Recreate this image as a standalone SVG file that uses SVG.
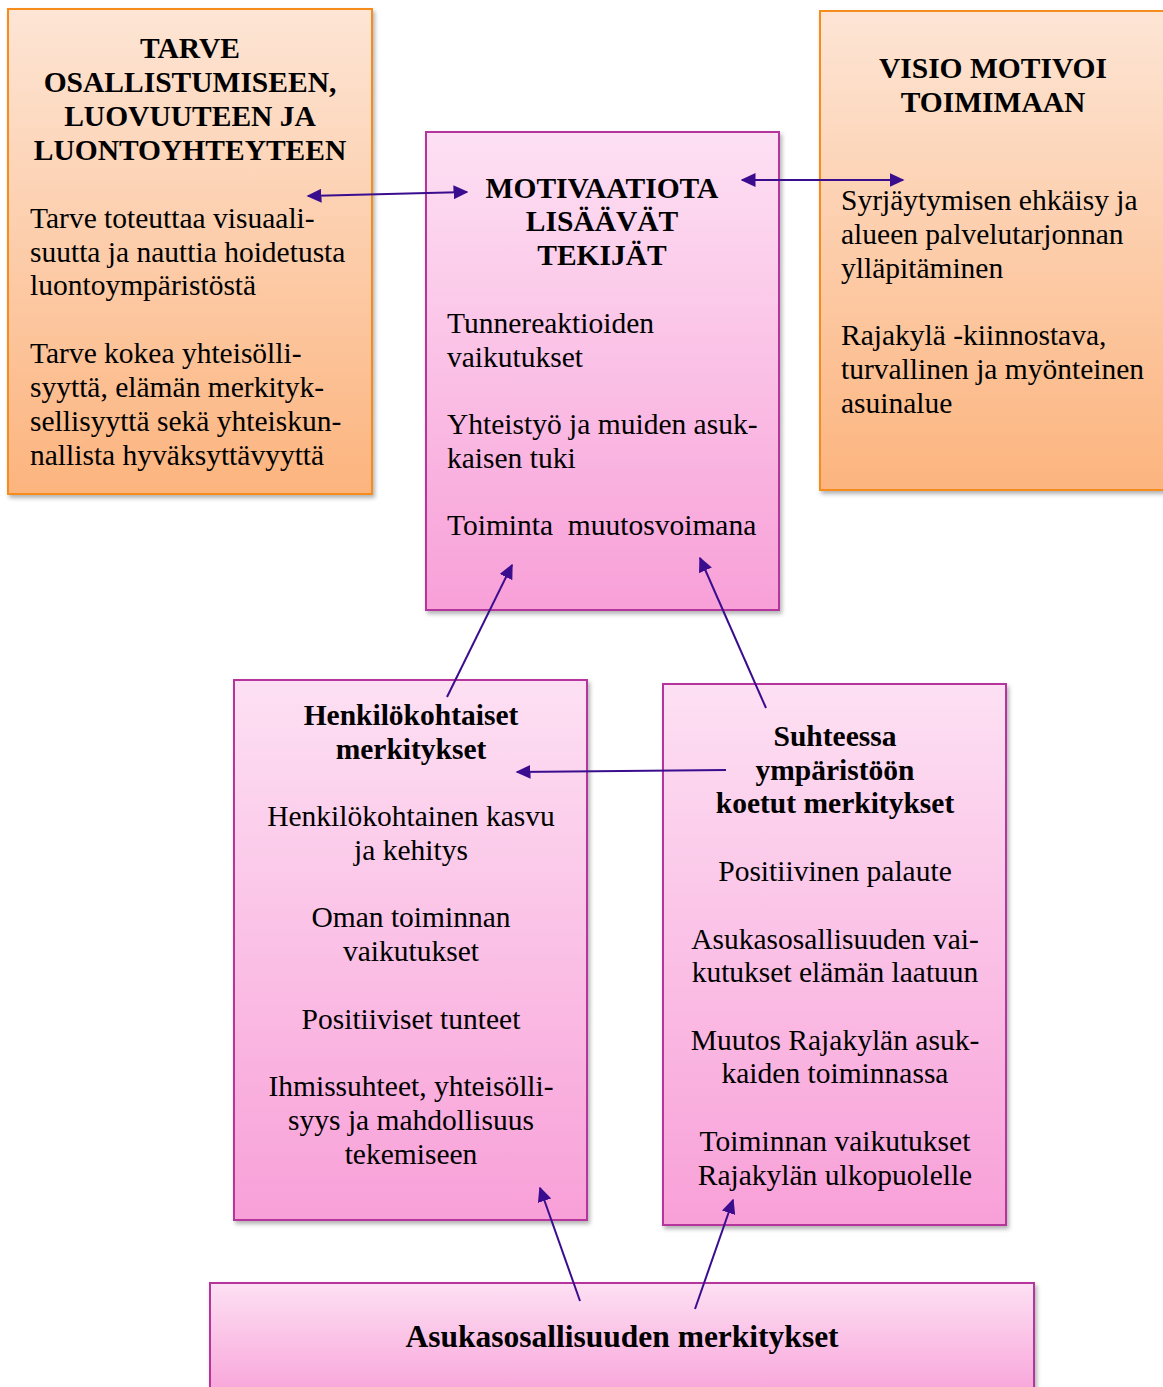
<svg xmlns="http://www.w3.org/2000/svg" width="1163" height="1387" viewBox="0 0 1163 1387">
<style>
.t{font-family:"Liberation Serif","Times New Roman",serif;font-size:29.5px;fill:#000}
.b{font-family:"Liberation Serif","Times New Roman",serif;font-size:29.5px;font-weight:bold;fill:#000}
.bb{font-size:31.5px}
.c{text-anchor:middle}
.or{fill:url(#gO);stroke:#f68c1f;stroke-width:2}
.pk{fill:url(#gP);stroke:#b5369c;stroke-width:2}
.ar{stroke:#3a0d8f;stroke-width:2;fill:none}
</style>
<defs>
<linearGradient id="gO" x1="0" y1="0" x2="0" y2="1"><stop offset="0" stop-color="#fde5d5"/><stop offset="1" stop-color="#fcb47e"/></linearGradient>
<linearGradient id="gP" x1="0" y1="0" x2="0" y2="1"><stop offset="0" stop-color="#fde0f3"/><stop offset="1" stop-color="#f8a0d8"/></linearGradient>
<filter id="sh" x="-10%" y="-10%" width="120%" height="120%"><feDropShadow dx="2" dy="3" stdDeviation="2" flood-color="#000" flood-opacity="0.3"/></filter>
<marker id="ah" viewBox="0 0 10 10" refX="9" refY="5" markerWidth="15" markerHeight="14" markerUnits="userSpaceOnUse" orient="auto-start-reverse" preserveAspectRatio="none"><path d="M0,0 L10,5 L0,10 z" fill="#3a0d8f"/></marker>
</defs>
<g id="tarve">
<rect class="or" x="8" y="9" width="364" height="485" filter="url(#sh)"/>
<text class="b c" x="190" y="58">TARVE</text>
<text class="b c" x="190" y="92">OSALLISTUMISEEN,</text>
<text class="b c" x="190" y="126">LUOVUUTEEN JA</text>
<text class="b c" x="190" y="160">LUONTOYHTEYTEEN</text>
<text class="t" x="30" y="228">Tarve toteuttaa visuaali-</text>
<text class="t" x="30" y="262">suutta ja nauttia hoidetusta</text>
<text class="t" x="30" y="295">luontoympäristöstä</text>
<text class="t" x="30" y="363">Tarve kokea yhteisölli-</text>
<text class="t" x="30" y="397">syyttä, elämän merkityk-</text>
<text class="t" x="30" y="431">sellisyyttä sekä yhteiskun-</text>
<text class="t" x="30" y="465">nallista hyväksyttävyyttä</text>
</g>
<g id="motivaatio">
<rect class="pk" x="426" y="132" width="353" height="478" filter="url(#sh)"/>
<text class="b c" x="602" y="198">MOTIVAATIOTA</text>
<text class="b c" x="602" y="231">LISÄÄVÄT</text>
<text class="b c" x="602" y="265">TEKIJÄT</text>
<text class="t" x="447" y="333">Tunnereaktioiden</text>
<text class="t" x="447" y="367">vaikutukset</text>
<text class="t" x="447" y="434">Yhteistyö ja muiden asuk-</text>
<text class="t" x="447" y="468">kaisen tuki</text>
<text class="t" x="447" y="535" xml:space="preserve">Toiminta  muutosvoimana</text>
</g>
<g id="visio">
<rect class="or" x="820" y="11" width="350" height="479" filter="url(#sh)"/>
<text class="b c" x="993" y="78">VISIO MOTIVOI</text>
<text class="b c" x="993" y="112">TOIMIMAAN</text>
<text class="t" x="841" y="210">Syrjäytymisen ehkäisy ja</text>
<text class="t" x="841" y="244">alueen palvelutarjonnan</text>
<text class="t" x="841" y="278">ylläpitäminen</text>
<text class="t" x="841" y="345">Rajakylä -kiinnostava,</text>
<text class="t" x="841" y="379">turvallinen ja myönteinen</text>
<text class="t" x="841" y="413">asuinalue</text>
</g>
<g id="henkilo">
<rect class="pk" x="234" y="680" width="353" height="540" filter="url(#sh)"/>
<text class="b c" x="411" y="725">Henkilökohtaiset</text>
<text class="b c" x="411" y="759">merkitykset</text>
<text class="t c" x="411" y="826">Henkilökohtainen kasvu</text>
<text class="t c" x="411" y="860">ja kehitys</text>
<text class="t c" x="411" y="927">Oman toiminnan</text>
<text class="t c" x="411" y="961">vaikutukset</text>
<text class="t c" x="411" y="1029">Positiiviset tunteet</text>
<text class="t c" x="411" y="1096">Ihmissuhteet, yhteisölli-</text>
<text class="t c" x="411" y="1130">syys ja mahdollisuus</text>
<text class="t c" x="411" y="1164">tekemiseen</text>
</g>
<g id="suhteessa">
<rect class="pk" x="663" y="684" width="343" height="541" filter="url(#sh)"/>
<text class="b c" x="835" y="746">Suhteessa</text>
<text class="b c" x="835" y="780">ympäristöön</text>
<text class="b c" x="835" y="813">koetut merkitykset</text>
<text class="t c" x="835" y="881">Positiivinen palaute</text>
<text class="t c" x="835" y="949">Asukasosallisuuden vai-</text>
<text class="t c" x="835" y="982">kutukset elämän laatuun</text>
<text class="t c" x="835" y="1050">Muutos Rajakylän asuk-</text>
<text class="t c" x="835" y="1083">kaiden toiminnassa</text>
<text class="t c" x="835" y="1151">Toiminnan vaikutukset</text>
<text class="t c" x="835" y="1185">Rajakylän ulkopuolelle</text>
</g>
<g id="asukas">
<rect class="pk" x="210" y="1283" width="824" height="120" filter="url(#sh)"/>
<text class="b bb c" x="622" y="1347">Asukasosallisuuden merkitykset</text>
</g>
<g id="connectors">
<line class="ar" x1="308" y1="196" x2="467" y2="192" marker-start="url(#ah)" marker-end="url(#ah)"/>
<line class="ar" x1="742" y1="180" x2="903" y2="180" marker-start="url(#ah)" marker-end="url(#ah)"/>
<line class="ar" x1="447" y1="697" x2="512" y2="565" marker-end="url(#ah)"/>
<line class="ar" x1="766" y1="708" x2="700" y2="558" marker-end="url(#ah)"/>
<line class="ar" x1="726" y1="770" x2="517" y2="772" marker-end="url(#ah)"/>
<line class="ar" x1="580" y1="1301" x2="540" y2="1188" marker-end="url(#ah)"/>
<line class="ar" x1="695" y1="1309" x2="733" y2="1200" marker-end="url(#ah)"/>
</g>
</svg>
